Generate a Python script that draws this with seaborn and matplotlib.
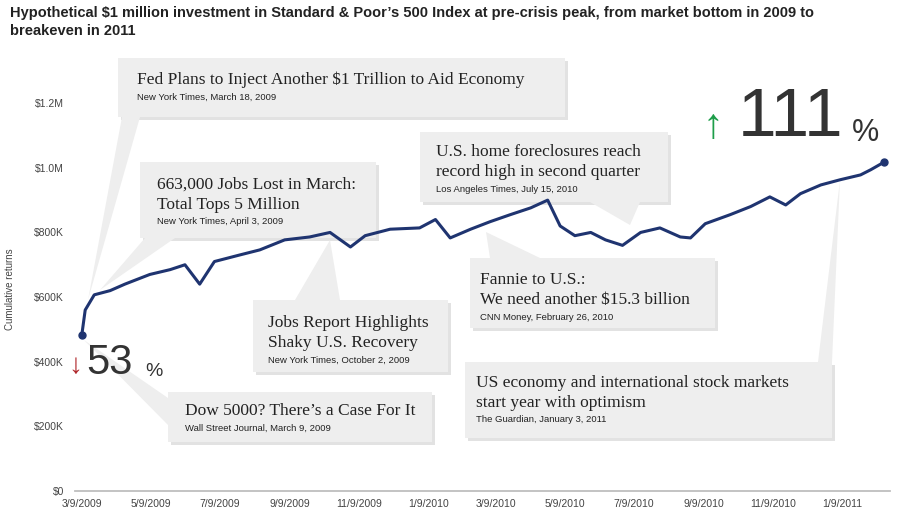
import matplotlib
matplotlib.use("Agg")
import matplotlib.pyplot as plt
import seaborn as sns
import pandas as pd
import numpy as np
from matplotlib.patches import Rectangle, Polygon

dates = ["2009-03-09","2009-03-12","2009-03-20","2009-04-03","2009-04-16","2009-05-08","2009-05-26",
         "2009-06-08","2009-06-21","2009-07-04","2009-07-26","2009-08-13","2009-09-04","2009-09-26",
         "2009-10-14","2009-11-01","2009-11-14","2009-12-06","2010-01-01","2010-01-15","2010-01-28",
         "2010-02-15","2010-03-04","2010-03-22","2010-04-09","2010-04-24","2010-05-05","2010-05-18",
         "2010-06-01","2010-06-14","2010-06-29","2010-07-15","2010-08-01","2010-08-19","2010-08-28",
         "2010-09-10","2010-10-02","2010-10-20","2010-11-06","2010-11-20","2010-12-03","2010-12-21",
         "2011-01-07","2011-01-25","2011-02-03","2011-02-15"]
values = [483000,560000,607000,620000,640000,670000,685000,700000,640000,710000,730000,746000,777000,
          786000,800000,755000,790000,810000,814000,840000,783000,810000,833000,855000,876000,900000,
          820000,790000,800000,777000,760000,800000,814000,786000,783000,827000,855000,880000,910000,
          885000,920000,947000,963000,978000,994000,1018000]
xtick_labels = ["3/9/2009","5/9/2009","7/9/2009","9/9/2009","11/9/2009","1/9/2010","3/9/2010",
                "5/9/2010","7/9/2010","9/9/2010","11/9/2010","1/9/2011"]
ytick_vals = [0,200000,400000,600000,800000,1000000,1200000]
ytick_labels = ["$0","$200K","$400K","$600K","$800K","$1.0M","$1.2M"]

df = pd.DataFrame({"date": pd.to_datetime(dates), "value": values})
start = df["date"].iloc[0]
df["day"] = (df["date"] - start).dt.days
tick_days = [(pd.to_datetime(t, format="%m/%d/%Y") - start).days for t in xtick_labels]

sns.set_theme(style="white")
plt.rcParams["font.family"] = ["Liberation Sans", "DejaVu Sans"]

W, H = 912, 528
fig = plt.figure(figsize=(W/100, H/100), dpi=100)
ax = fig.add_axes([75/W, 1-491/H, 815/W, 404/H])
ax.set_zorder(3)
ax.patch.set_alpha(0)

def P(x, y):
    return (x/W, 1-y/H)

box_c = "#eeeeee"
boxes = [
    (118, 58, 565, 117, [(122,117),(140,117),(88,300)],
     ["Fed Plans to Inject Another $1 Trillion to Aid Economy"], "New York Times, March 18, 2009", 137, 80),
    (140, 162, 376, 238, [(145,238),(175,238),(100,290)],
     ["663,000 Jobs Lost in March:", "Total Tops 5 Million"], "New York Times, April 3, 2009", 157, 185),
    (253, 300, 448, 372, [(295,300),(340,300),(330,240)],
     ["Jobs Report Highlights", "Shaky U.S. Recovery"], "New York Times, October 2, 2009", 268, 323),
    (168, 392, 432, 442, [(168,398),(168,425),(84,340)],
     ["Dow 5000? There\u2019s a Case For It"], "Wall Street Journal, March 9, 2009", 185, 411),
    (420, 132, 668, 202, [(590,202),(640,202),(630,225)],
     ["U.S. home foreclosures reach", "record high in second quarter"], "Los Angeles Times, July 15, 2010", 436, 152),
    (470, 258, 715, 328, [(490,258),(540,258),(486,232)],
     ["Fannie to U.S.:", "We need another $15.3 billion"], "CNN Money, February 26, 2010", 480, 280),
    (465, 362, 832, 438, [(818,362),(832,362),(840,180)],
     ["US economy and international stock markets", "start year with optimism"], "The Guardian, January 3, 2011", 476, 383),
]
for (x0, y0, x1, y1, wedge, lines, src, tx, ty) in boxes:
    fig.patches.append(Rectangle(P(x0+3, y1+3), (x1-x0)/W, (y1-y0)/H, transform=fig.transFigure,
                                 facecolor="#e2e2e2", edgecolor="none", zorder=0))
    fig.patches.append(Rectangle(P(x0, y1), (x1-x0)/W, (y1-y0)/H, transform=fig.transFigure,
                                 facecolor=box_c, edgecolor="none", zorder=1))
    fig.patches.append(Polygon([P(*p) for p in wedge], closed=True, transform=fig.transFigure,
                               facecolor=box_c, edgecolor="none", zorder=1))
    for i, l in enumerate(lines):
        fig.text(*P(tx, ty + i*20), l, fontsize=12.5, family="Liberation Serif", color="#222222",
                 va="center", ha="left", zorder=2)
    fig.text(*P(tx, ty + len(lines)*20 - 3), src, fontsize=6.8, color="#222222", va="center", ha="left", zorder=2)

sns.lineplot(data=df, x="day", y="value", ax=ax, color="#1f3470", linewidth=2.2)
ax.plot(df["day"].iloc[[0, -1]], df["value"].iloc[[0, -1]], "o", color="#1f3470", markersize=5)

ax.set_xlim(-6, 713)
ax.set_ylim(0, 1250000)
ax.set_xticks(tick_days)
ax.set_xticklabels(xtick_labels, fontsize=7.5, color="#444444")
ax.set_yticks(ytick_vals)
ax.set_yticklabels(ytick_labels, fontsize=7.5, color="#444444")
ax.tick_params(axis="y", length=0, pad=8)
ax.tick_params(axis="x", length=0, pad=6)
for s in ["top", "right", "left"]:
    ax.spines[s].set_visible(False)
ax.spines["bottom"].set_color("#bbbbbb")
ax.set_xlabel("")
ax.set_ylabel("Cumulative returns", fontsize=7, color="#444444", labelpad=14)
ax.grid(False)

fig.text(*P(10, 22), "Hypothetical $1 million investment in Standard & Poor\u2019s 500 Index at pre-crisis peak, from market bottom in 2009 to\nbreakeven in 2011",
         fontsize=10.5, fontweight="bold", color="#222222", va="center", ha="left", linespacing=1.3)

fig.text(*P(703, 127), "\u2191", fontsize=30, color="#1e9e4a", va="center", ha="left")
fig.text(*P(738, 118), "111", fontsize=50, color="#333333", va="center", ha="left", fontweight="light")
fig.text(*P(852, 133), "%", fontsize=22, color="#333333", va="center", ha="left")
fig.text(*P(68, 366), "\u2193", fontsize=20, color="#b0282c", va="center", ha="left")
fig.text(*P(86, 363), "53", fontsize=30, color="#333333", va="center", ha="left")
fig.text(*P(145, 372), "%", fontsize=14, color="#333333", va="center", ha="left")

fig.savefig("out.png", dpi=100)
